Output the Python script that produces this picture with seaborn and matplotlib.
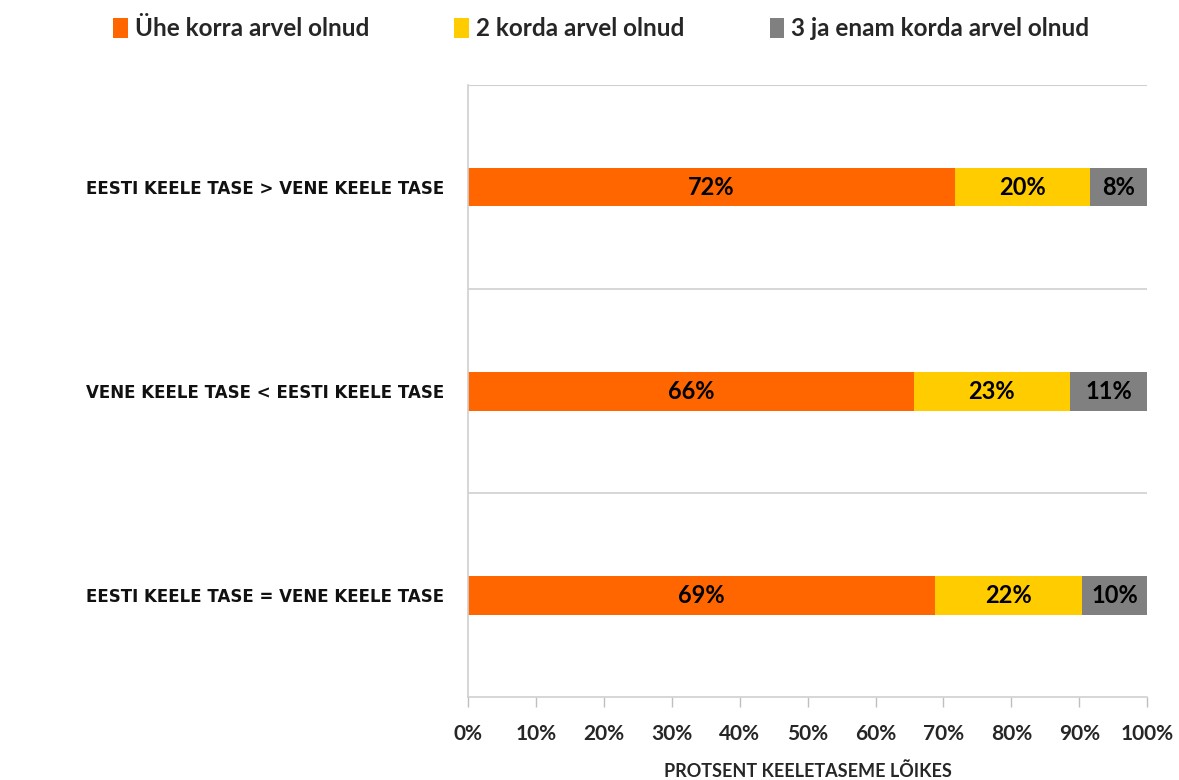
import numpy as np
import pandas as pd
import matplotlib
matplotlib.use("Agg")
import matplotlib.pyplot as plt
import seaborn as sns
from matplotlib.patches import Patch

categories = [
    "EESTI KEELE TASE > VENE KEELE TASE",
    "VENE KEELE TASE < EESTI KEELE TASE",
    "EESTI KEELE TASE = VENE KEELE TASE",
]
series_names = [
    "Ühe korra arvel olnud",
    "2 korda arvel olnud",
    "3 ja enam korda arvel olnud",
]
once = [71.7, 65.6, 68.8]
twice = [19.9, 23.0, 21.6]
three_plus = [8.4, 11.4, 9.6]
colors = ["#FF6600", "#FFCC00", "#808080"]
xticks = [0, 10, 20, 30, 40, 50, 60, 70, 80, 90, 100]

sns.set_theme(style="white")
plt.rcParams["font.family"] = ["Lato", "DejaVu Sans"]
plt.rcParams["font.weight"] = "bold"

df = pd.DataFrame({
    "cat": categories,
    "once": once,
    "twice": twice,
    "three": three_plus,
})
df["c1"] = df["once"]
df["c2"] = df["once"] + df["twice"]
df["c3"] = df["c2"] + df["three"]

fig = plt.figure(figsize=(11.79, 7.80), dpi=100)
ax = fig.add_axes([0.397, 0.106, 0.576, 0.785])

# stacked bars: draw the longest cumulative first
for col, color in zip(["c3", "c2", "c1"], colors[::-1]):
    sns.barplot(data=df, x=col, y="cat", color=color, width=0.19,
                orient="h", ax=ax, saturation=1, linewidth=0)

# labels centred in each segment
for i in range(len(categories)):
    starts = [0, df["c1"][i], df["c2"][i]]
    vals = [once[i], twice[i], three_plus[i]]
    for s, v in zip(starts, vals):
        ax.text(s + v / 2, i, f"{v:.0f}%", ha="center", va="center",
                fontsize=17, fontweight="bold", color="black")

ax.set_xlim(0, 100)
ax.set_ylim(2.5, -0.5)
ax.set_xticks(xticks)
ax.set_xticklabels([f"{t}%" for t in xticks], fontsize=15, fontweight="bold")
ax.tick_params(axis="x", which="major", length=7, width=1, color="#BFBFBF",
               direction="out", bottom=True, pad=12)
ax.tick_params(axis="y", length=0, pad=17)
ax.set_yticks(range(len(categories)))
ax.set_yticklabels(categories, fontsize=12, fontweight="bold",
                   family=["DejaVu Sans"], color="#111111")
ax.set_xlabel("PROTSENT KEELETASEME LÕIKES", fontsize=13, fontweight="bold",
              labelpad=13)
ax.set_ylabel("")

for b in [0.5, 1.5]:
    ax.axhline(b, color="#D0D0D0", linewidth=1.2, zorder=0)
ax.axhline(-0.5, color="#D0D0D0", linewidth=1.5, zorder=0)

for s in ["right", "top"]:
    ax.spines[s].set_visible(False)
ax.spines["left"].set_color("#D0D0D0")
ax.spines["bottom"].set_color("#D0D0D0")
ax.spines["left"].set_linewidth(1.2)
ax.spines["bottom"].set_linewidth(1.2)

handles = [Patch(facecolor=c, edgecolor="none") for c in colors]
fig.legend(handles, series_names, loc="center", bbox_to_anchor=(0.51, 0.963),
           ncol=3, frameon=False, handlelength=0.6,
           handleheight=0.9, handletextpad=0.3, columnspacing=3.5,
           prop={"weight": "bold", "size": 17.5})

fig.savefig("out.png", dpi=100)
